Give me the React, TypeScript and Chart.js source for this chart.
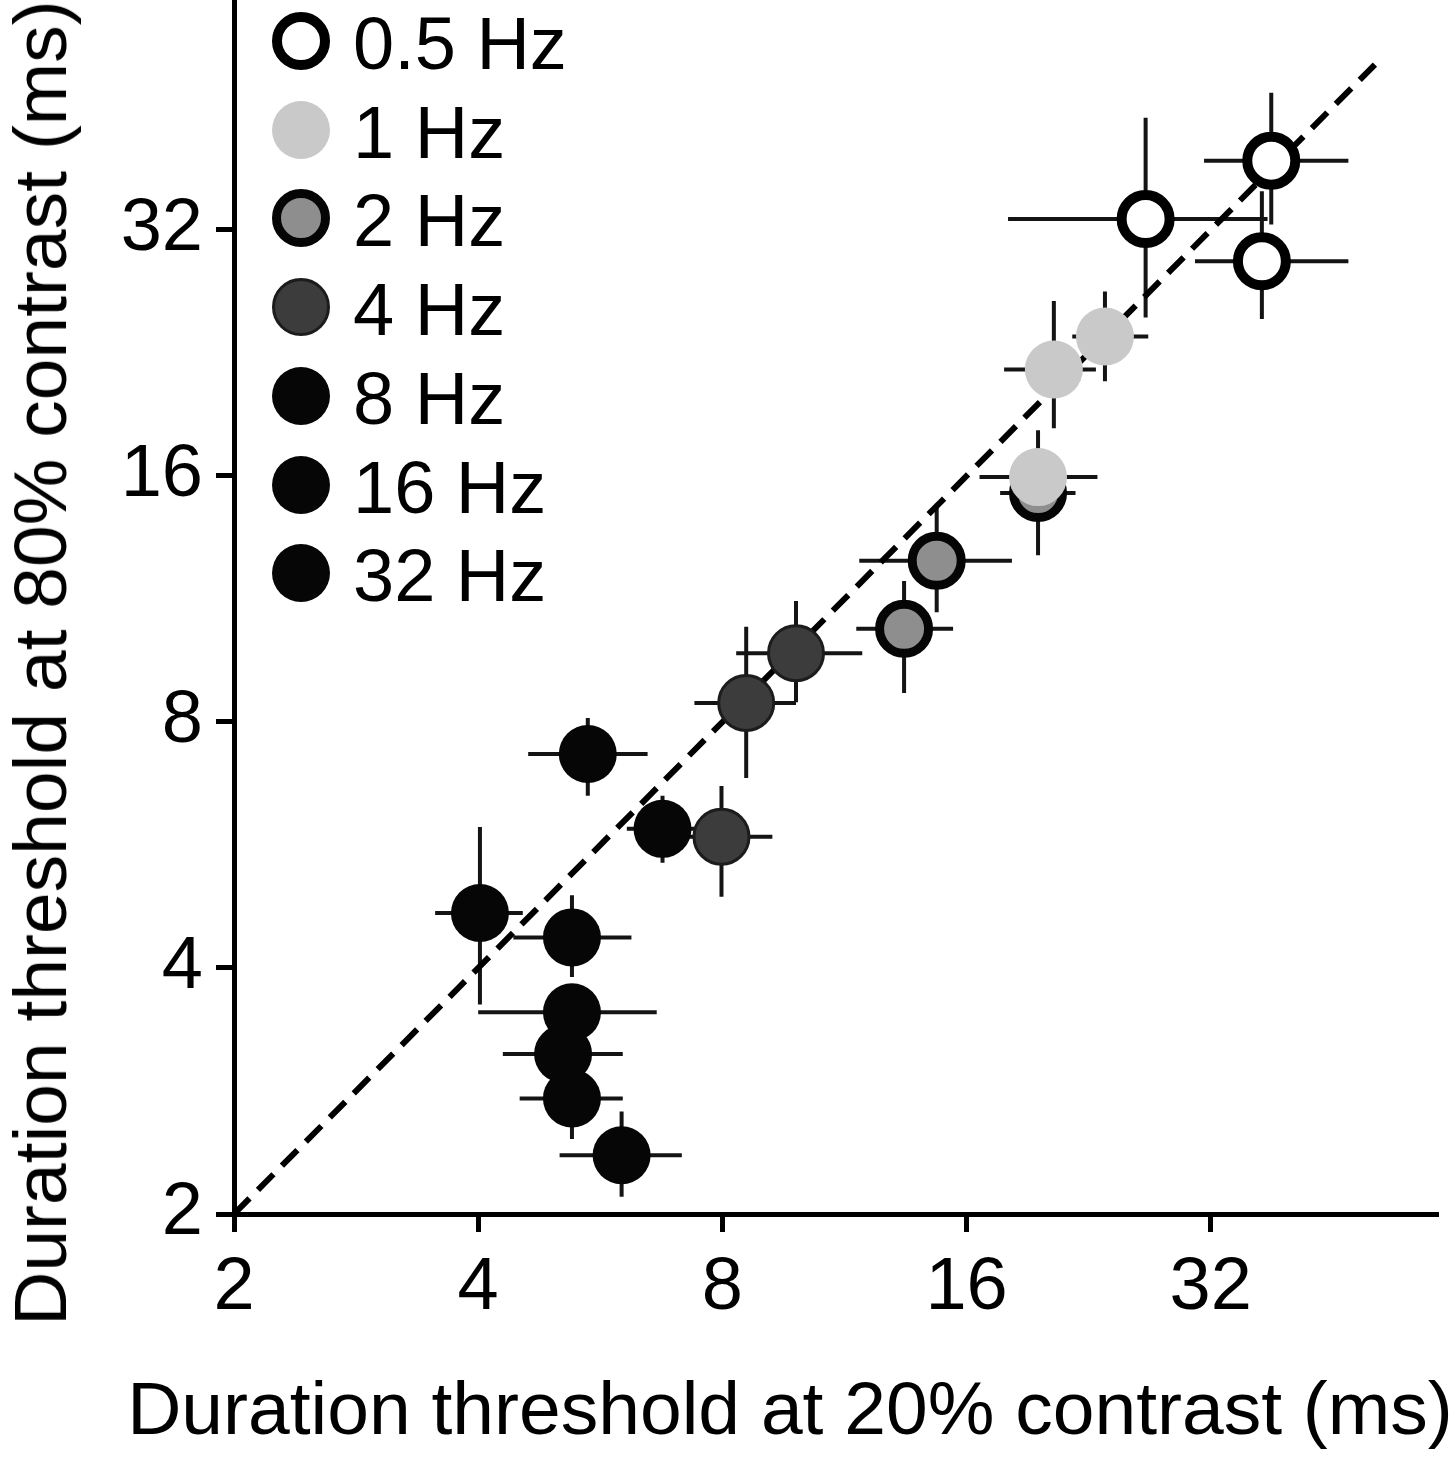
import { useEffect, useRef } from 'react';
import { Chart, registerables } from 'chart.js';

Chart.register(...registerables);

// Frequencies shown in the legend (index used by pointFreq below)
const frequencies = ['0.5 Hz', '1 Hz', '2 Hz', '4 Hz', '8 Hz', '16 Hz', '32 Hz'];

// Axis ticks and range (ms, log2 axes)
const tickValues = [2, 4, 8, 16, 32];
const axisMin = 2;
const axisMax = 61;

// Identity (unity) line end points
const identityLine = [2, 51];

// One entry per observer/condition point
const pointFreq = [0, 0, 0, 1, 1, 1, 2, 2, 2, 3, 3, 3, 4, 4, 4, 5, 5, 5, 6, 6];
const x20 = [26.6, 37.0, 38.0, 19.6, 20.5, 23.7, 19.6, 13.4, 14.7, 7.98, 8.56, 9.86, 4.02, 6.75, 5.46, 6.01, 5.22, 5.22, 5.22, 5.09];
const y80 = [33.0, 29.3, 38.9, 15.95, 21.6, 23.7, 15.25, 10.4, 12.6, 5.79, 8.44, 9.71, 4.67, 5.92, 7.31, 2.36, 3.53, 4.36, 2.77, 3.14];
const x20Lo = [18.0, 30.6, 31.4, 16.6, 17.8, 21.6, 17.6, 11.7, 11.8, 6.9, 7.39, 8.32, 3.54, 6.1, 4.61, 5.04, 4.0, 4.42, 4.5, 4.29];
const x20Hi = [37.6, 47.3, 47.3, 23.2, 23.1, 26.8, 21.8, 15.4, 18.2, 9.22, 9.86, 11.9, 4.54, 7.5, 6.47, 7.13, 6.64, 6.18, 6.03, 6.03];
const y80Lo = [25.0, 24.9, 32.5, 14.0, 18.3, 20.9, 12.8, 8.68, 10.9, 4.89, 6.83, 8.46, 3.61, 5.38, 6.5, 2.1, 3.35, 3.9, 2.47, 2.9];
const y80Hi = [43.9, 35.7, 47.1, 18.2, 26.2, 26.9, 17.4, 11.9, 14.8, 6.68, 10.46, 11.25, 5.95, 6.5, 8.09, 2.67, 3.75, 4.91, 3.1, 3.4];

const FONT = '"Liberation Sans", Arial, Helvetica, sans-serif';

const markerStyles = [
  { fill: '#ffffff', border: '#000000', borderWidth: 10, radius: 24 },
  { fill: '#c9c9c9', border: '#c9c9c9', borderWidth: 0, radius: 29 },
  { fill: '#8e8e8e', border: '#050505', borderWidth: 9, radius: 24.5 },
  { fill: '#3c3c3c', border: '#1c1c1c', borderWidth: 3, radius: 27.5 },
  { fill: '#060606', border: '#060606', borderWidth: 0, radius: 29 },
  { fill: '#060606', border: '#060606', borderWidth: 0, radius: 29 },
  { fill: '#060606', border: '#060606', borderWidth: 0, radius: 29 },
];

const ScatterChart: React.FC = () => {
  const chartRef = useRef<HTMLCanvasElement>(null);
  const chartInstance = useRef<Chart | null>(null);

  useEffect(() => {
    if (!chartRef.current) return;
    if (chartInstance.current) chartInstance.current.destroy();
    const ctx = chartRef.current.getContext('2d');
    if (!ctx) return;

    // Marker datasets, one per frequency
    const markerSets = frequencies.map((label, f) => {
      const st = markerStyles[f];
      const pts = x20
        .map((x, i) => ({ x, y: y80[i], f: pointFreq[i] }))
        .filter(p => p.f === f)
        .map(p => ({ x: p.x, y: p.y }));
      return {
        label,
        data: pts,
        order: 0,
        backgroundColor: st.fill,
        borderColor: st.border,
        pointRadius: st.radius,
        pointHoverRadius: st.radius,
        pointBorderWidth: st.borderWidth,
        pointHoverBorderWidth: st.borderWidth,
        pointBackgroundColor: st.fill,
        pointBorderColor: st.border,
        showLine: false,
      };
    });

    // Error bars as broken line segments
    const errorPoints: { x: number; y: number }[] = [];
    x20.forEach((x, i) => {
      errorPoints.push({ x: x20Lo[i], y: y80[i] }, { x: x20Hi[i], y: y80[i] }, { x: NaN, y: NaN });
      errorPoints.push({ x, y: y80Lo[i] }, { x, y: y80Hi[i] }, { x: NaN, y: NaN });
    });

    const axisCommon = {
      type: 'logarithmic' as const,
      min: axisMin,
      max: axisMax,
      afterBuildTicks: (s: any) => {
        s.ticks = tickValues.map(v => ({ value: v }));
      },
      border: { display: true, color: '#000', width: 5 },
      grid: {
        display: true,
        drawOnChartArea: false,
        drawTicks: true,
        tickLength: 18,
        tickWidth: 5,
        tickColor: '#000',
        color: '#000',
      },
    };

    chartInstance.current = new Chart(ctx, {
      type: 'scatter',
      data: {
        datasets: [
          ...markerSets,
          {
            label: 'identity',
            data: identityLine.map(v => ({ x: v, y: v })),
            order: 1,
            showLine: true,
            borderColor: '#000',
            borderWidth: 6,
            borderDash: [22, 12],
            pointRadius: 0,
            pointHoverRadius: 0,
          },
          {
            label: 'errors',
            data: errorPoints,
            order: 2,
            showLine: true,
            spanGaps: false,
            borderColor: '#141414',
            borderWidth: 4,
            pointRadius: 0,
            pointHoverRadius: 0,
          },
        ] as any,
      },
      options: {
        animation: false,
        responsive: true,
        maintainAspectRatio: false,
        layout: { autoPadding: false, padding: { top: 1, right: 18, left: 0, bottom: 0 } },
        plugins: {
          legend: { display: false },
          tooltip: { enabled: false },
        },
        scales: {
          x: {
            ...axisCommon,
            afterFit: (s: any) => {
              s.height = 246;
              s.paddingLeft = 0;
              s.paddingRight = 0;
            },
            ticks: {
              autoSkip: false,
              maxRotation: 0,
              color: '#000',
              padding: 12,
              font: { family: FONT, size: 74 },
              callback: (v: any) => String(v),
            },
          },
          y: {
            ...axisCommon,
            afterFit: (s: any) => {
              s.width = 234;
              s.paddingTop = 0;
              s.paddingBottom = 0;
            },
            ticks: {
              autoSkip: false,
              color: '#000',
              padding: 13,
              font: { family: FONT, size: 74 },
              callback: (v: any) => String(v),
            },
          },
        },
      } as any,
    });

    return () => {
      if (chartInstance.current) {
        chartInstance.current.destroy();
        chartInstance.current = null;
      }
    };
  }, []);

  return <canvas ref={chartRef} />;
};

const App: React.FC = () => {
  const textStyle: React.CSSProperties = {
    position: 'absolute',
    fontFamily: FONT,
    fontSize: 74,
    lineHeight: '88px',
    height: 88,
    whiteSpace: 'nowrap',
    color: '#000',
  };

  return (
    <div style={{ position: 'absolute', left: 0, top: 0, width: 1456, height: 1460, background: '#fff', overflow: 'hidden' }}>
      <div style={{ position: 'absolute', left: 0, top: 0, width: 1456, height: 1460 }}>
        <ScatterChart />
      </div>

      {/* legend */}
      {frequencies.map((label, i) => {
        const st = markerStyles[i];
        const cy = 41 + i * 88.7;
        const outer = (st.radius + st.borderWidth / 2) * 2;
        return (
          <div key={label}>
            <div
              style={{
                position: 'absolute',
                left: 301 - outer / 2,
                top: cy - outer / 2,
                width: outer,
                height: outer,
                boxSizing: 'border-box',
                borderRadius: '50%',
                background: st.fill,
                border: st.borderWidth > 0 ? `${st.borderWidth}px solid ${st.border}` : 'none',
              }}
            />
            <div style={{ ...textStyle, left: 353, top: cy - 41 }}>{label}</div>
          </div>
        );
      })}

      {/* axis titles */}
      <div style={{ ...textStyle, fontSize: 75, left: 790, top: 1364, transform: 'translateX(-50%)' }}>
        Duration threshold at 20% contrast (ms)
      </div>
      <div
        style={{
          ...textStyle,
          fontSize: 75,
          left: 40,
          top: 663,
          transform: 'translate(-50%, -50%) rotate(-90deg)',
        }}
      >
        Duration threshold at 80% contrast (ms)
      </div>
    </div>
  );
};

export default App;
